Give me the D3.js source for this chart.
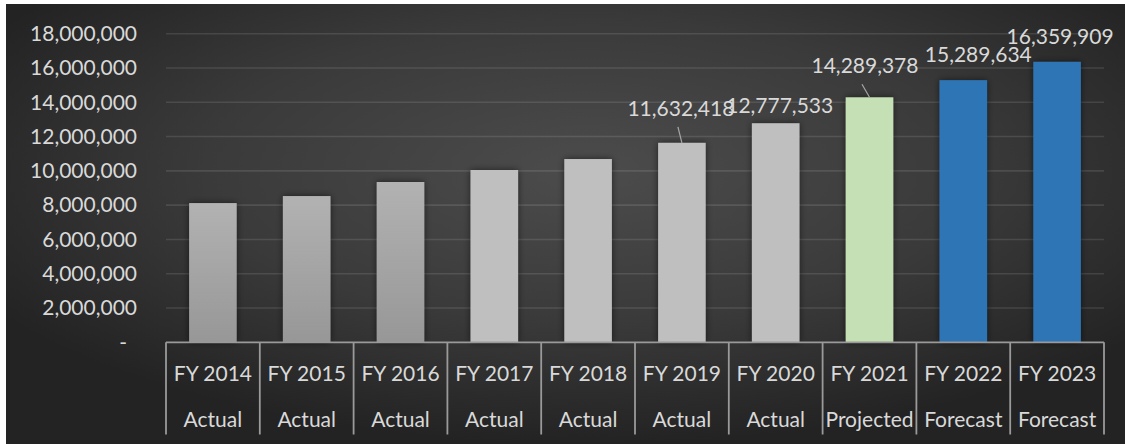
<!DOCTYPE html>
<html>
<head>
<meta charset="utf-8">
<script src="https://cdn.jsdelivr.net/npm/d3@7"></script>
<style>
  html, body { margin: 0; padding: 0; background: #ffffff; }
  svg { display: block; }
  text { font-family: Lato, "Open Sans", sans-serif; }
</style>
</head>
<body>
<svg id="chart" width="1125" height="444"></svg>
<script>
// Fiscal years and their status row
const years = ["FY 2014", "FY 2015", "FY 2016", "FY 2017", "FY 2018",
               "FY 2019", "FY 2020", "FY 2021", "FY 2022", "FY 2023"];
const status = ["Actual", "Actual", "Actual", "Actual", "Actual",
                "Actual", "Actual", "Projected", "Forecast", "Forecast"];
// Yearly totals
const values = [8120000, 8530000, 9350000, 10050000, 10690000,
                11632418, 12777533, 14289378, 15289634, 16359909];
// Which bars carry a value label
const labelled = [false, false, false, false, false, true, true, true, true, true];
// Y axis ticks
const yTicks = [0, 2000000, 4000000, 6000000, 8000000, 10000000,
                12000000, 14000000, 16000000, 18000000];

// Bar fill style per year: "grad" (shaded grey), "grey", "green", "blue"
const barStyle = ["grad", "grad", "grad", "grey", "grey", "grey", "grey", "green", "blue", "blue"];
// Manual nudges of the value labels: [dx from bar centre, baseline offset from bar top, leader?]
const labelNudge = [null, null, null, null, null,
                    [-1, -27, true], [4, -10, false], [-4.5, -24, true], [15, -18.5, false], [3, -18, false]];

const svg = d3.select("#chart");
const W = 1125, H = 444;

const defs = svg.append("defs");

// Dark radial backdrop
const bg = defs.append("radialGradient")
  .attr("id", "bgGrad")
  .attr("cx", "52%").attr("cy", "38%")
  .attr("r", "62%")
  .attr("fx", "52%").attr("fy", "38%");
bg.append("stop").attr("offset", "0%").attr("stop-color", "#4c4c4c");
bg.append("stop").attr("offset", "55%").attr("stop-color", "#3a3a3a");
bg.append("stop").attr("offset", "100%").attr("stop-color", "#232323");

// Shaded grey bars
const bgBar = defs.append("linearGradient")
  .attr("id", "barGrad").attr("x1", 0).attr("y1", 0).attr("x2", 0).attr("y2", 1);
bgBar.append("stop").attr("offset", "0%").attr("stop-color", "#b2b2b2");
bgBar.append("stop").attr("offset", "100%").attr("stop-color", "#979797");

// Soft shadow around bars
const shadow = defs.append("filter").attr("id", "barShadow")
  .attr("x", "-30%").attr("y", "-10%").attr("width", "160%").attr("height", "120%");
shadow.append("feGaussianBlur").attr("in", "SourceAlpha").attr("stdDeviation", 3.5).attr("result", "blur");
shadow.append("feComponentTransfer").attr("in", "blur").attr("result", "soft")
  .append("feFuncA").attr("type", "linear").attr("slope", 0.55);
const merge = shadow.append("feMerge");
merge.append("feMergeNode").attr("in", "soft");
merge.append("feMergeNode").attr("in", "SourceGraphic");

svg.append("rect")
  .attr("x", 6).attr("y", 4)
  .attr("width", W - 6).attr("height", H - 4)
  .attr("fill", "url(#bgGrad)");

const plotLeft = 166, plotRight = 1104;
const y0 = 342.3, yTop = 33.7;

const x = d3.scaleBand()
  .domain(years)
  .range([plotLeft, plotRight])
  .paddingInner(0.493)
  .paddingOuter(0.2465);

const y = d3.scaleLinear()
  .domain([0, 18000000])
  .range([y0, yTop]);

const textColor = "#d9d9d9";
const fmt = d3.format(",");

// Gridlines
svg.append("g")
  .selectAll("line")
  .data(yTicks.filter(d => d > 0))
  .join("line")
  .attr("x1", plotLeft).attr("x2", plotRight)
  .attr("y1", d => y(d)).attr("y2", d => y(d))
  .attr("stroke", "rgba(255,255,255,0.11)")
  .attr("stroke-width", 1.6);

// Y axis labels (no axis line)
const yAxis = d3.axisLeft(y)
  .tickValues(yTicks)
  .tickSize(0)
  .tickPadding(0)
  .tickFormat(d => d === 0 ? "-" : fmt(d));
const yg = svg.append("g")
  .attr("transform", "translate(137,0)")
  .call(yAxis);
yg.select(".domain").remove();
yg.selectAll("text")
  .attr("fill", textColor)
  .attr("font-size", 21)
  .attr("font-family", "Lato, 'Open Sans', sans-serif")
  .attr("dx", d => d === 0 ? -10 : 0);

// Bars
const fillFor = s => s === "grad" ? "url(#barGrad)"
  : s === "grey" ? "#bfbfbf"
  : s === "green" ? "#c5e0b4" : "#2e75b6";

svg.append("g")
  .attr("filter", "url(#barShadow)")
  .selectAll("rect")
  .data(years)
  .join("rect")
  .attr("x", d => x(d))
  .attr("width", x.bandwidth())
  .attr("y", (d, i) => y(values[i]))
  .attr("height", (d, i) => y(0) - y(values[i]))
  .attr("fill", (d, i) => fillFor(barStyle[i]));

// Category axis: baseline and box dividers
const axisColor = "#9a9a9a";
const boxBottom = 434.5;
svg.append("line")
  .attr("x1", plotLeft).attr("x2", plotRight)
  .attr("y1", y0).attr("y2", y0)
  .attr("stroke", axisColor).attr("stroke-width", 1.8);

svg.append("g")
  .selectAll("line")
  .data(d3.range(years.length + 1))
  .join("line")
  .attr("x1", i => plotLeft + i * x.step())
  .attr("x2", i => plotLeft + i * x.step())
  .attr("y1", y0).attr("y2", boxBottom)
  .attr("stroke", axisColor).attr("stroke-width", 1.8);

const cx = d => x(d) + x.bandwidth() / 2;

// Two-level category labels
svg.append("g")
  .selectAll("text")
  .data(years)
  .join("text")
  .attr("x", cx)
  .attr("y", 381)
  .attr("text-anchor", "middle")
  .attr("font-size", 21)
  .attr("fill", textColor)
  .text(d => d);

svg.append("g")
  .selectAll("text")
  .data(years)
  .join("text")
  .attr("x", cx)
  .attr("y", 427)
  .attr("text-anchor", "middle")
  .attr("font-size", 21)
  .attr("fill", textColor)
  .text((d, i) => status[i]);

// Value labels with leader lines where a label was pulled away
const lab = years.map((d, i) => ({ d, i })).filter(o => labelled[o.i]);

svg.append("g")
  .selectAll("line")
  .data(lab.filter(o => labelNudge[o.i][2]))
  .join("line")
  .attr("x1", o => cx(o.d) + labelNudge[o.i][0] - 3)
  .attr("y1", o => y(values[o.i]) + labelNudge[o.i][1] + 11)
  .attr("x2", o => cx(o.d))
  .attr("y2", o => y(values[o.i]))
  .attr("stroke", "#a6a6a6")
  .attr("stroke-width", 1.2);

svg.append("g")
  .selectAll("text")
  .data(lab)
  .join("text")
  .attr("x", o => cx(o.d) + labelNudge[o.i][0])
  .attr("y", o => y(values[o.i]) + labelNudge[o.i][1])
  .attr("text-anchor", "middle")
  .attr("font-size", 21)
  .attr("fill", textColor)
  .text(o => fmt(values[o.i]));
</script>
</body>
</html>
